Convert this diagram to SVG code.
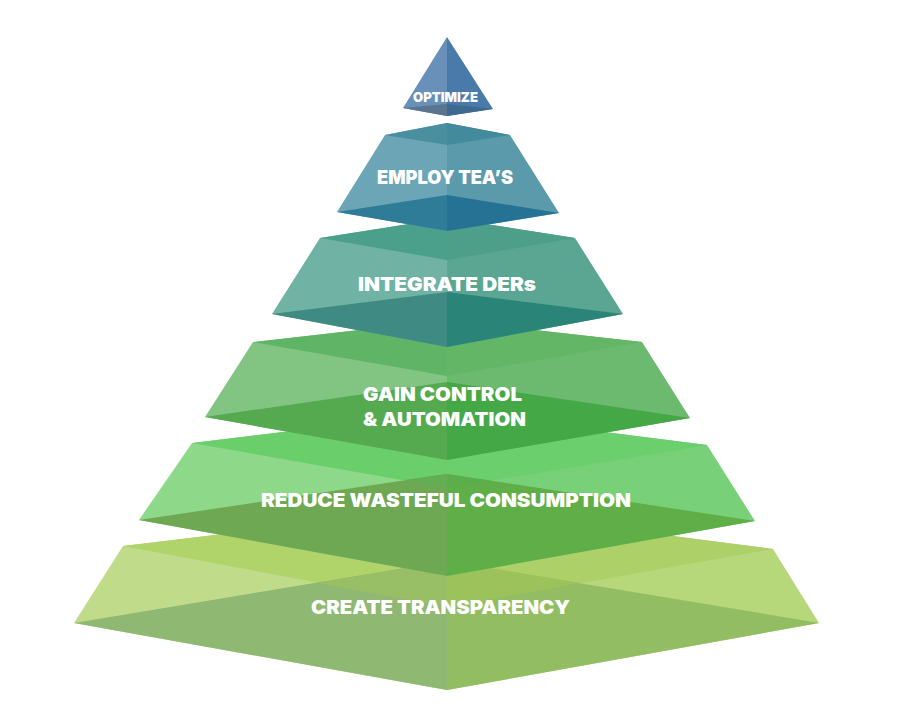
<svg xmlns="http://www.w3.org/2000/svg" width="900" height="722" viewBox="0 0 900 722">
<style>
.lbl{fill:#ffffff;font-family:Inter,"Open Sans","Liberation Sans",sans-serif;font-weight:900;}
</style>
<rect x="0" y="0" width="900" height="722" fill="#ffffff"/>
<g id="layer-create-transparency">
<polygon points="447,507 123,546 74,623 447,690" fill="#c0dc8a"/>
<polygon points="447,507 773,549 819,623 447,690" fill="#b6d87a"/>
<polygon points="447,507 123,546 447,607" fill="#b0d46a"/>
<polygon points="447,507 773,549 447,607" fill="#add068"/>
<polygon points="447,561 74,623 447,690" fill="#8fb872"/>
<polygon points="447,561 819,623 447,690" fill="#93bd62"/>
<polygon points="447,561 317,583 447,607" fill="#98be66"/>
<polygon points="447,561 580,583 447,607" fill="#9cc25c"/>
<text class="lbl" x="311" y="614" font-size="19" textLength="259" lengthAdjust="spacingAndGlyphs">CREATE TRANSPARENCY</text>
</g>
<g id="layer-reduce-wasteful-consumption">
<polygon points="447,412 192,443 139,520 447,576" fill="#8ed88a"/>
<polygon points="447,412 707,445 755,521 447,576" fill="#78d078"/>
<polygon points="447,412 192,443 447,488" fill="#6acf6a"/>
<polygon points="447,412 707,445 447,488" fill="#6ccf6e"/>
<polygon points="447,474 139,520 447,576" fill="#6ea852"/>
<polygon points="447,474 755,521 447,576" fill="#5fae48"/>
<polygon points="447,474 404,480 447,488" fill="#63ad52"/>
<polygon points="447,474 491,481 447,488" fill="#5cae4c"/>
<text class="lbl" x="261" y="507" font-size="19" textLength="370" lengthAdjust="spacingAndGlyphs">REDUCE WASTEFUL CONSUMPTION</text>
</g>
<g id="layer-gain-control">
<polygon points="447,320 253,342 205,417 447,460" fill="#82c482"/>
<polygon points="447,320 642,342 690,418 447,460" fill="#6cb970"/>
<polygon points="447,320 253,342 447,376" fill="#5fb565"/>
<polygon points="447,320 642,342 447,376" fill="#62b666"/>
<polygon points="447,382 205,417 447,460" fill="#55a94f"/>
<polygon points="447,382 690,418 447,460" fill="#45a846"/>
<text class="lbl" x="363" y="401" font-size="19" textLength="159" lengthAdjust="spacingAndGlyphs">GAIN CONTROL</text>
<text class="lbl" x="363" y="426" font-size="19" textLength="163" lengthAdjust="spacingAndGlyphs">&amp; AUTOMATION</text>
</g>
<g id="layer-integrate-ders">
<polygon points="447,218 320,238 272,314 447,347" fill="#70b2a3"/>
<polygon points="447,218 575,238 623,314 447,347" fill="#5aa693"/>
<polygon points="447,218 320,238 447,260" fill="#4ba08b"/>
<polygon points="447,218 575,238 447,260" fill="#4d9f8a"/>
<polygon points="447,292 272,314 447,347" fill="#3f8a82"/>
<polygon points="447,292 623,314 447,347" fill="#2a8578"/>
<text class="lbl" x="358" y="291" font-size="19" textLength="178" lengthAdjust="spacingAndGlyphs">INTEGRATE DERs</text>
</g>
<g id="layer-employ-teas">
<polygon points="447,123 385,135 337,212 447,231" fill="#6ca6b6"/>
<polygon points="447,123 510,135 559,213 447,231" fill="#5a9aaa"/>
<polygon points="447,123 385,135 447,145" fill="#4a8fa0"/>
<polygon points="447,123 510,135 447,145" fill="#428a9c"/>
<polygon points="447,195 337,212 447,231" fill="#2f7c98"/>
<polygon points="447,195 559,213 447,231" fill="#267294"/>
<text class="lbl" x="377" y="184" font-size="19" textLength="136" lengthAdjust="spacingAndGlyphs">EMPLOY TEA’S</text>
</g>
<g id="layer-optimize">
<polygon points="447,37 403,108 447,116" fill="#6890b8"/>
<polygon points="447,37 493,109 447,116" fill="#4a7aaa"/>
<polygon points="447,104 403,108 447,116" fill="#5a7590"/>
<polygon points="447,104 493,109 447,116" fill="#3f6a8f"/>
<text class="lbl" x="413" y="102" font-size="13.5" textLength="65" lengthAdjust="spacingAndGlyphs">OPTIMIZE</text>
</g>
</svg>
